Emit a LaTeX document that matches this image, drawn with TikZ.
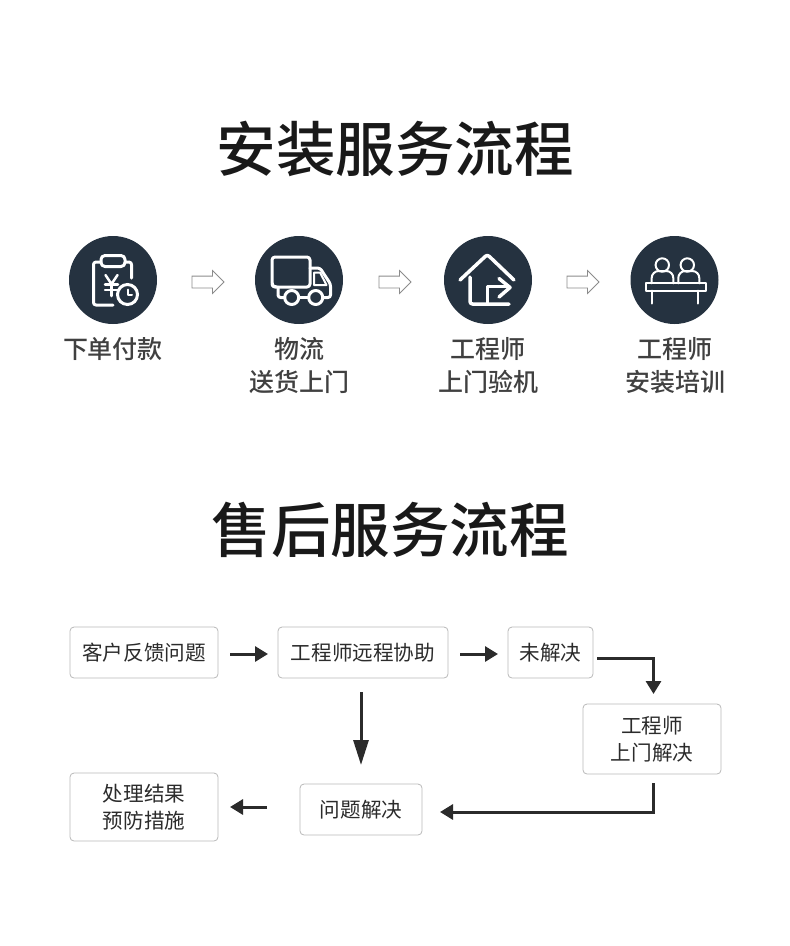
\documentclass[tikz,border=0pt]{standalone}
\usepackage{fontspec}
\setmainfont{Noto Sans CJK SC}
\newfontfamily\cjkmedium{Noto Sans CJK SC Medium}
\usetikzlibrary{arrows.meta}
\usetikzlibrary{shapes.arrows}
\definecolor{icondark}{HTML}{253240}
\definecolor{inkdark}{HTML}{2B2B2B}
\tikzstyle{flowbox}=[draw=black!28, line width=0.8pt, rounded corners=4pt, inner sep=0, outer sep=0, align=center,
                     text=inkdark, font=\fontsize{20.6}{27}\selectfont]
\tikzstyle{flowarrow}=[draw=inkdark, line width=3pt, -{Triangle[length=13pt, width=15pt]}]
\tikzstyle{longarrow}=[flowarrow, -{Triangle[length=25pt, width=15pt]}]
\tikzstyle{stepcircle}=[circle, fill=icondark, minimum size=88pt, inner sep=0, outer sep=0]
\tikzstyle{steplabel}=[align=center, anchor=north, inner sep=0, text=black!75, font=\cjkmedium\fontsize{25}{33}\selectfont]
\tikzstyle{hollowarrow}=[single arrow, draw=black!45, line width=0.8pt, inner xsep=0, inner ysep=5.5pt, outer sep=0,
                         minimum height=32pt, single arrow head extend=5.5pt, single arrow head indent=0pt]
\tikzstyle{titletext}=[inner sep=0, text=black!90, font=\cjkmedium\fontsize{59.5}{60}\selectfont]
\tikzstyle{iconline}=[draw=white, line width=3pt, line cap=round, line join=round, rounded corners=2.5pt]
\tikzstyle{iconthin}=[draw=white, line width=2pt, line cap=round, line join=round]
\begin{document}
\begin{tikzpicture}[x=1pt, y=-1pt]
        \useasboundingbox (0, 0) rectangle (790, 946);
        % Install flow.
        \node[titletext] (title1) at (395, 149) {安装服务流程};
        \node[stepcircle] (C1) at (113, 280) {};
        \node[stepcircle] (C2) at (299, 280) {};
        \node[stepcircle] (C3) at (488, 280) {};
        \node[stepcircle] (C4) at (674.5, 280) {};
        \node[hollowarrow] (A1) at (205, 282) {};
        \node[hollowarrow] (A2) at (392, 282) {};
        \node[hollowarrow] (A3) at (580, 282) {};
        \node[steplabel] (L1) at (113, 337.5) {下单付款};
        \node[steplabel] (L2) at (299, 337.5) {物流\\送货上门};
        \node[steplabel] (L3) at (488, 337.5) {工程师\\上门验机};
        \node[steplabel] (L4) at (675, 337.5) {工程师\\安装培训};
        % Clipboard.
        \draw[iconline] (101, 262) -- (93.5, 262) -- (93.5, 305) -- (113, 305);
        \draw[iconline] (125, 262) -- (131.5, 262) -- (131.5, 278);
        \draw[iconline, rounded corners=4pt] (101, 255.5) rectangle (125, 266.5);
        \draw[iconthin, line width=2.5pt] (105.5, 275) -- (111.5, 284) -- (117.5, 275);
        \draw[iconthin, line width=2.5pt] (111.5, 284) -- (111.5, 296);
        \draw[iconthin, line width=2.5pt] (105, 284.5) -- (118, 284.5);
        \draw[iconthin, line width=2.5pt] (105, 290) -- (118, 290);
        \node[circle, draw=white, fill=icondark, line width=3pt, minimum size=20pt, inner sep=0] (clock) at (127.5, 294.5) {};
        \draw[iconthin] (127.5, 289.5) -- (127.5, 294.5) -- (132, 294.5);
        % Truck.
        \draw[iconline, rounded corners=3pt] (278, 287) -- (274, 287) -- (272, 285) -- (272, 257) -- (310, 257) -- (310, 287) -- cycle;
        \draw[iconline] (278, 287) -- (278, 297.5) -- (284.5, 297.5);
        \draw[iconline] (299, 297.5) -- (308.5, 297.5);
        \draw[iconline] (310, 268) -- (320, 268) -- (330.5, 284) -- (330.5, 297.5) -- (323, 297.5);
        \draw[iconthin] (314, 272.5) -- (320, 272.5) -- (326.5, 285) -- (314, 285) -- cycle;
        \draw[iconline] (291.7, 297.5) circle (7);
        \draw[iconline] (315.7, 297.5) circle (7);
        % House.
        \draw[iconline, line width=3.5pt] (460, 280) -- (487.3, 254.5) -- (514, 280);
        \draw[iconline, line width=3.5pt] (470, 277) -- (470, 304) -- (509, 304);
        \draw[iconline, line width=3.5pt, rounded corners=0] (487.3, 304) -- (487.3, 286.7) -- (509, 286.7);
        \draw[iconline, line width=3.5pt, rounded corners=0] (499, 278.5) -- (510, 287.5) -- (499, 297);
        % Training table.
        \draw[iconthin] (662.3, 265) circle (6.7);
        \draw[iconthin] (687.3, 265) circle (6.7);
        \draw[iconthin, rounded corners=7pt] (651.7, 283.3) -- (651.7, 271) -- (673.3, 271) -- (673.3, 283.3);
        \draw[iconthin, rounded corners=7pt] (678.3, 283.3) -- (678.3, 271) -- (699.3, 271) -- (699.3, 283.3);
        \draw[iconthin] (646, 283.3) rectangle (705.5, 290.7);
        \draw[iconthin] (651.7, 290.7) -- (651.7, 303.5);
        \draw[iconthin] (698.3, 290.7) -- (698.3, 303.5);
        % After-sales flow.
        \node[titletext] (title2) at (390, 530) {售后服务流程};
        \node[flowbox, minimum width=148pt, minimum height=51pt] (B1) at (144, 652.5) {客户反馈问题};
        \node[flowbox, minimum width=170pt, minimum height=51pt] (B2) at (363, 652.5) {工程师远程协助};
        \node[flowbox, minimum width=85pt, minimum height=51pt]  (B3) at (550.5, 652.5) {未解决};
        \node[flowbox, minimum width=138pt, minimum height=70pt] (B4) at (652, 739) {工程师\\上门解决};
        \node[flowbox, minimum width=122pt, minimum height=51pt] (B5) at (361, 809.5) {问题解决};
        \node[flowbox, minimum width=148pt, minimum height=68pt] (B6) at (144, 807) {处理结果\\预防措施};
        \draw[flowarrow, shorten <=12pt, shorten >=10pt] ([yshift=-1.5pt]B1.east) -- ([yshift=-1.5pt]B2.west);
        \draw[flowarrow, shorten <=12pt, shorten >=10pt] ([yshift=-1.5pt]B2.east) -- ([yshift=-1.5pt]B3.west);
        \draw[flowarrow, shorten <=4pt, shorten >=10pt] ([yshift=-5.5pt]B3.east) -| ([xshift=1.5pt]B4.north);
        \draw[longarrow, shorten <=14pt, shorten >=19pt] (B2.south -| B5) -- (B5.north);
        \draw[flowarrow, shorten <=9pt, shorten >=18pt] ([xshift=1pt]B4.south) |- ([yshift=-2.5pt]B5.east);
        \draw[flowarrow, shorten <=33pt, shorten >=12pt] (B5.west |- B6.east) -- (B6.east);
    \end{tikzpicture}
\end{document}
